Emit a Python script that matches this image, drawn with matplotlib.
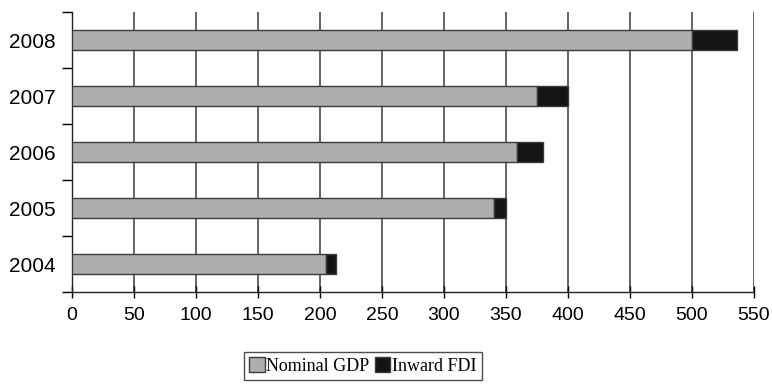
import matplotlib.pyplot as plt
from matplotlib.ticker import FixedLocator, NullFormatter
import numpy as np

years = ['2004', '2005', '2006', '2007', '2008']
nominal_gdp = [205, 340, 359, 375, 500]
inward_fdi = [8, 10, 21, 25, 36]
x_ticks = list(range(0, 551, 50))

plt.rcParams['font.family'] = ['Liberation Sans', 'DejaVu Sans']

fig = plt.figure(figsize=(7.72, 3.86), dpi=100)
ax = fig.add_axes([72 / 772, 1 - 292 / 386, (754 - 72) / 772, 280 / 386])

y = np.arange(len(years))
ax.barh(y, nominal_gdp, height=0.37, color='#adafad', edgecolor='#3a3a3a',
        linewidth=1, label='Nominal GDP', zorder=3)
ax.barh(y, inward_fdi, left=nominal_gdp, height=0.37, color='#141414',
        edgecolor='#3a3a3a', linewidth=1, label='Inward FDI', zorder=3)

ax.set_xlim(0, 550)
ax.set_ylim(-0.5, len(years) - 0.5)
ax.set_xticks(x_ticks)
ax.tick_params(axis='x', direction='inout', length=9, width=1, labelsize=14, pad=6)
ax.set_yticks(y)
ax.set_yticklabels(years)
ax.tick_params(axis='y', which='major', length=0, labelsize=15, pad=12)
ax.yaxis.set_minor_locator(FixedLocator(np.arange(-0.5, len(years), 1.0)))
ax.yaxis.set_minor_formatter(NullFormatter())
ax.tick_params(axis='y', which='minor', direction='out', length=7, width=1)

ax.grid(axis='x', color='#4a4a4a', linewidth=1.2, zorder=0)
ax.spines['top'].set_visible(False)
ax.spines['right'].set_visible(False)
for s in ('left', 'bottom'):
    ax.spines[s].set_color('#222222')
    ax.spines[s].set_linewidth(1)

leg = fig.legend(loc='center', bbox_to_anchor=(363 / 772, 1 - 366 / 386), ncol=2,
                 frameon=True, fancybox=False, edgecolor='#222222',
                 prop={'family': 'Liberation Serif', 'size': 13},
                 handlelength=0.85, handleheight=0.85, handletextpad=0.1,
                 columnspacing=0.3, borderpad=0.3, borderaxespad=0)
leg.get_frame().set_linewidth(1)

fig.savefig('out.png', dpi=100)
